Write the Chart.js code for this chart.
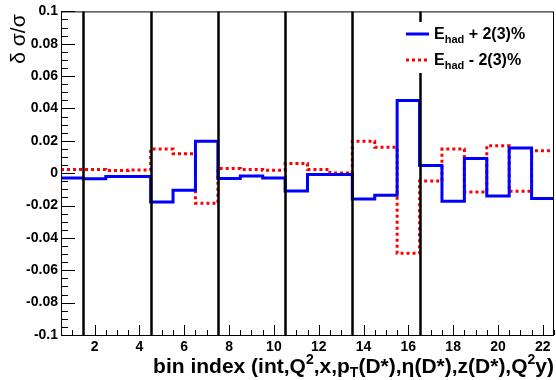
<!DOCTYPE html>
<html>
<head>
<meta charset="utf-8">
<script src="https://cdn.jsdelivr.net/npm/chart.js@4"></script>
<style>
  body { margin: 0; background: #fff; }
  canvas { display: block; }
</style>
</head>
<body>
<canvas id="binChart" width="556" height="380"></canvas>
<script>
// bins 1..22, values
var bins = [1, 2, 3, 4, 5, 6, 7, 8, 9, 10, 11, 12, 13, 14, 15, 16, 17, 18, 19, 20, 21, 22];
var plusVals = [-0.003, -0.0035, -0.002, -0.002, -0.0178, -0.0106, 0.0197, -0.0033, -0.0017, -0.0029, -0.011,
    -0.0008, -0.0008, -0.016, -0.0137, 0.0449, 0.0048, -0.0174, 0.0091, -0.0141, 0.0155, -0.0157];
var minusVals = [0.0023, 0.0023, 0.0017, 0.002, 0.0149, 0.012, -0.0186, 0.0029, 0.0023, 0.0019, 0.006,
    0.0023, 0.0002, 0.0197, 0.016, -0.0495, -0.0048, 0.0149, -0.0116, 0.017, -0.0112, 0.0139];
var separators = [1.5, 4.5, 7.5, 10.5, 13.5, 16.5];
var xTicks = [2, 4, 6, 8, 10, 12, 14, 16, 18, 20, 22];
var yTicks = [-0.1, -0.08, -0.06, -0.04, -0.02, 0, 0.02, 0.04, 0.06, 0.08, 0.1];
var legendLabels = ['+ 2(3)%', '- 2(3)%'];

var FONT = '"Liberation Sans", Arial, sans-serif';

// histogram steps: each bin becomes a flat segment from low edge to high edge
function steps(vals) {
    var pts = [];
    bins.forEach(function(b, i) {
        pts.push({x: b - 0.5, y: vals[i]});
        pts.push({x: b + 0.5, y: vals[i]});
    });
    return pts;
}

var rootStyle = {
    id: 'rootStyle',
    afterDatasetsDraw: function(chart) {
        var c = chart.ctx, a = chart.chartArea;
        var xs = chart.scales.x, ys = chart.scales.y;
        c.save();
        // separator lines
        c.strokeStyle = '#000';
        c.lineWidth = 2.5;
        separators.forEach(function(s) {
            var px = Math.round(xs.getPixelForValue(s)) + 0.5;
            c.beginPath();
            c.moveTo(px, a.top);
            c.lineTo(px, a.bottom);
            c.stroke();
        });
        // frame
        c.lineWidth = 1;
        c.strokeRect(a.left + 0.5, a.top + 0.5, a.right - a.left - 1, a.bottom - a.top);
        // inward ticks, y axis
        c.beginPath();
        for (var v = -0.1; v <= 0.1001; v += 0.005) {
            var py = Math.round(ys.getPixelForValue(v)) + 0.5;
            var major = Math.abs(Math.round(v * 1000) % 20) === 0;
            c.moveTo(a.left, py);
            c.lineTo(a.left + (major ? 14 : 7), py);
        }
        // inward ticks, x axis
        for (var u = 0.5; u <= 22.501; u += 0.5) {
            var qx = Math.round(xs.getPixelForValue(u)) + 0.5;
            var maj = Math.abs(u - Math.round(u)) < 1e-6 && Math.round(u) % 2 === 0;
            c.moveTo(qx, a.bottom);
            c.lineTo(qx, a.bottom - (maj ? 10 : 5));
        }
        c.stroke();

        // legend
        c.fillStyle = '#fff';
        c.fillRect(398, 22, 145, 51);
        var rows = [
            {y: 34, color: '#0000ff', dash: [], text: legendLabels[0]},
            {y: 60, color: '#ff0000', dash: [3, 3], text: legendLabels[1]}
        ];
        rows.forEach(function(r) {
            c.strokeStyle = r.color;
            c.lineWidth = 3;
            c.setLineDash(r.dash);
            c.beginPath();
            c.moveTo(406, r.y);
            c.lineTo(429, r.y);
            c.stroke();
            c.setLineDash([]);
            c.fillStyle = '#000';
            c.textBaseline = 'alphabetic';
            c.textAlign = 'left';
            c.font = 'bold 16px ' + FONT;
            c.fillText('E', 434, r.y + 5);
            var w = c.measureText('E').width;
            c.font = 'bold 11px ' + FONT;
            c.fillText('had', 434 + w, r.y + 9);
            var w2 = c.measureText('had').width;
            c.font = 'bold 16px ' + FONT;
            c.fillText(' ' + r.text, 434 + w + w2, r.y + 5);
        });

        // axis titles
        c.fillStyle = '#000';
        var parts = [['bin index (int,Q', 0], ['2', 1], [',x,p', 0], ['T', -1], ['(D*),', 0], ['\u03b7', 0],
            ['(D*),z(D*),Q', 0], ['2', 1], ['y)', 0]];
        var total = 0;
        parts.forEach(function(p) {
            c.font = (p[1] ? 'bold 14px ' : 'bold 21px ') + FONT;
            total += c.measureText(p[0]).width;
        });
        var x0 = a.right - total;
        c.textAlign = 'left';
        parts.forEach(function(p) {
            c.font = (p[1] ? 'bold 14px ' : 'bold 21px ') + FONT;
            var dy = p[1] === 1 ? -9 : (p[1] === -1 ? 4 : 0);
            c.fillText(p[0], x0, 373 + dy);
            x0 += c.measureText(p[0]).width;
        });

        c.translate(25, a.top + 3);
        c.rotate(-Math.PI / 2);
        c.textAlign = 'right';
        c.font = '21px ' + FONT;
        c.fillText('\u03b4 \u03c3/\u03c3', 0, 0);
        c.restore();
    }
};

var ctx = document.getElementById('binChart').getContext('2d');
var chart = new Chart(ctx, {
    type: 'line',
    data: {
        datasets: [{
            label: 'plus',
            data: steps(plusVals),
            borderColor: '#0000ff',
            borderWidth: 3,
            pointRadius: 0,
            fill: false
        }, {
            label: 'minus',
            data: steps(minusVals),
            borderColor: '#ff0000',
            borderWidth: 3,
            borderDash: [3, 3],
            pointRadius: 0,
            fill: false
        }]
    },
    options: {
        responsive: false,
        animation: false,
        layout: {padding: {top: 11, right: 2, left: 0, bottom: 0}},
        plugins: {legend: {display: false}, tooltip: {enabled: false}},
        scales: {
            x: {
                type: 'linear',
                min: 0.5,
                max: 22.5,
                afterBuildTicks: function(s) { s.ticks = xTicks.map(function(v) { return {value: v}; }); },
                afterFit: function(s) { s.height = 45; },
                grid: {display: false, drawTicks: false},
                border: {display: false},
                ticks: {
                    padding: 4,
                    color: '#000',
                    maxRotation: 0,
                    font: {family: FONT, size: 14, weight: 'bold'}
                }
            },
            y: {
                min: -0.1,
                max: 0.1,
                afterBuildTicks: function(s) { s.ticks = yTicks.map(function(v) { return {value: v}; }); },
                afterFit: function(s) { s.width = 61; },
                grid: {display: false, drawTicks: false},
                border: {display: false},
                ticks: {
                    padding: 3,
                    color: '#000',
                    font: {family: FONT, size: 14, weight: 'bold'},
                    callback: function(v) { return String(+v.toFixed(2)); }
                }
            }
        }
    },
    plugins: [rootStyle]
});
</script>
</body>
</html>
